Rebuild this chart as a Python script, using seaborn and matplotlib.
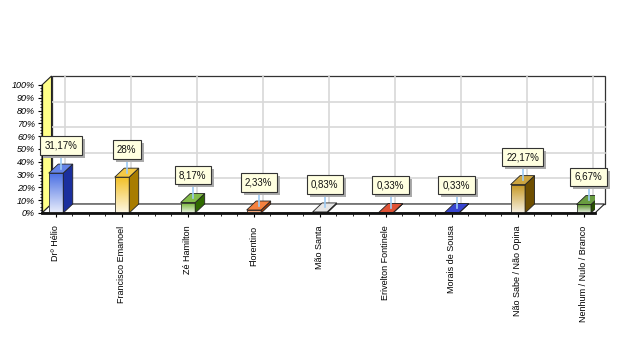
import numpy as np
import pandas as pd
import seaborn as sns
import matplotlib.pyplot as plt
from matplotlib.colors import LinearSegmentedColormap, to_rgb
from matplotlib.patches import Polygon, Rectangle
from matplotlib.ticker import MultipleLocator
from matplotlib.transforms import IdentityTransform

candidates = ["Drº Hélio", "Francisco Emanoel", "Zé Hamilton", "Florentino", "Mão Santa",
              "Erivelton Fontinele", "Morais de Sousa", "Não Sabe / Não Opina",
              "Nenhum / Nulo / Branco"]
percent = [31.17, 28, 8.17, 2.33, 0.83, 0.33, 0.33, 22.17, 6.67]
value_labels = ["31,17%", "28%", "8,17%", "2,33%", "0,83%", "0,33%", "0,33%", "22,17%", "6,67%"]
bar_colors = ['#4A6FE3', '#F2C025', '#6DB02A', '#F26B1D', '#E2E2E2',
              '#D93311', '#1424C8', '#C4951E', '#4E8A1E']
side_colors = ['#1B2F9E', '#A87C00', '#2F6A00', '#B03C00', '#9A9A9A',
               '#8C1A00', '#000A80', '#6E4E00', '#284F00']

plt.rcParams["font.family"] = ["Liberation Sans", "DejaVu Sans"]

fig = plt.figure(figsize=(6.35, 3.59), dpi=100)
ax = fig.add_axes([42 / 635, 146 / 359, 553 / 635, 128 / 359])
ax.set_facecolor('none')

df = pd.DataFrame({'Candidato': candidates, 'Percentual': percent})
sns.barplot(data=df, x='Candidato', y='Percentual', hue='Candidato', palette=bar_colors,
            width=0.22, saturation=1, legend=False, ax=ax, zorder=5)

x0, x1 = -0.212, 8.17
ax.set_xlim(x0, x1)
ax.set_ylim(0, 100)

# pixel -> data scale for the fake 3D depth
px_x = 553 / (x1 - x0)
px_y = 128 / 100
dx = 9.5 / px_x
dy = 9 / px_y

# walls and floor
ax.add_patch(Polygon([(x0 + dx, dy), (x1 + dx, dy), (x1 + dx, 100 + dy), (x0 + dx, 100 + dy)],
                     closed=True, fc='white', ec='#333333', lw=0.9, clip_on=False, zorder=1))
for g in [20, 40, 60, 80]:
    ax.plot([x0 + dx, x1 + dx], [g + dy, g + dy], color='#D8D8D8', lw=1.2,
            clip_on=False, zorder=1.5)
for i in range(len(candidates)):
    ax.plot([i + dx, i + dx], [dy, 100 + dy], color='#D8D8D8', lw=1.2,
            clip_on=False, zorder=1.5)
ax.add_patch(Polygon([(x0, 0), (x0, 100), (x0 + dx, 100 + dy), (x0 + dx, dy)],
                     closed=True, fc='#FFFF88', ec='#222222', lw=0.8, clip_on=False, zorder=2))
ax.add_patch(Polygon([(x0, 0), (x1, 0), (x1 + dx, dy), (x0 + dx, dy)],
                     closed=True, fc='white', ec='#222222', lw=0.8, clip_on=False, zorder=2))

# 3D bars: gradient front, dark side, lighter top
grad = np.linspace(0, 1, 256).reshape(-1, 1)
for p, col, side in zip(ax.patches[:len(candidates)], bar_colors, side_colors):
    x, w, h = p.get_x(), p.get_width(), p.get_height()
    c = np.array(to_rgb(col))
    light = c + (1 - c) * 0.88
    cmap = LinearSegmentedColormap.from_list('g', [light, c])
    ax.imshow(grad, extent=[x, x + w, 0, h], origin='lower', aspect='auto',
              cmap=cmap, zorder=5.5)
    p.set_facecolor('none')
    p.set_edgecolor('#333333')
    p.set_linewidth(0.6)
    p.set_zorder(6)
    ax.add_patch(Polygon([(x + w, 0), (x + w + dx, dy), (x + w + dx, h + dy), (x + w, h)],
                         closed=True, fc=side, ec='#222222', lw=0.6, zorder=6))
    top = c + (1 - c) * 0.15
    ax.add_patch(Polygon([(x, h), (x + dx, h + dy), (x + w + dx, h + dy), (x + w, h)],
                         closed=True, fc=top, ec='#222222', lw=0.6, zorder=6))

# value labels with leader lines
labels = []
for i, (v, lbl) in enumerate(zip(percent, value_labels)):
    cx = i + dx / 2
    ly = v + 27.5 / px_y
    ax.plot([cx, cx], [v + dy / 2, ly], color='#9CCBF5', lw=1.2, zorder=7, clip_on=False)
    t = ax.text(cx, ly, lbl, ha='center', va='center', fontsize=7, color='#111111', zorder=8,
                bbox=dict(boxstyle='square,pad=0.45', fc='#FFFFE0', ec='#333333', lw=0.8))
    labels.append(t)

ax.set_yticks(range(0, 101, 10))
ax.set_yticklabels([f"{t}%" for t in range(0, 101, 10)], fontsize=6.5, style='italic')
ax.yaxis.set_minor_locator(MultipleLocator(2.5))
ax.xaxis.set_minor_locator(MultipleLocator(0.25))
ax.set_xticks(range(len(candidates)))
ax.set_xticklabels(candidates, rotation=90, fontsize=6.5)
ax.tick_params(axis='y', which='major', length=3, width=0.8, pad=2)
ax.tick_params(axis='y', which='minor', length=1.5, width=0.6)
ax.tick_params(axis='x', which='major', length=3, width=0.8, pad=6)
ax.tick_params(axis='x', which='minor', length=2, width=0.6)
ax.set_xlabel('')
ax.set_ylabel('')
ax.grid(False)
for s in ['top', 'right']:
    ax.spines[s].set_visible(False)
ax.spines['left'].set_color('#111111')
ax.spines['left'].set_linewidth(0.9)
ax.spines['left'].set_zorder(3)
ax.spines['bottom'].set_color('#111111')
ax.spines['bottom'].set_linewidth(2)
ax.spines['bottom'].set_zorder(9)
ax.set_xlim(x0, x1)
ax.set_ylim(0, 100)

# grey drop shadows behind the label boxes
fig.canvas.draw()
for t in labels:
    bb = t.get_bbox_patch().get_window_extent()
    ax.add_patch(Rectangle((bb.x0 + 3, bb.y0 - 3), bb.width, bb.height, transform=IdentityTransform(),
                           fc='#AAAAAA', ec='none', zorder=7.5, clip_on=False))
ax.set_xlim(x0, x1)
ax.set_ylim(0, 100)

fig.savefig('out.png', dpi=100)
